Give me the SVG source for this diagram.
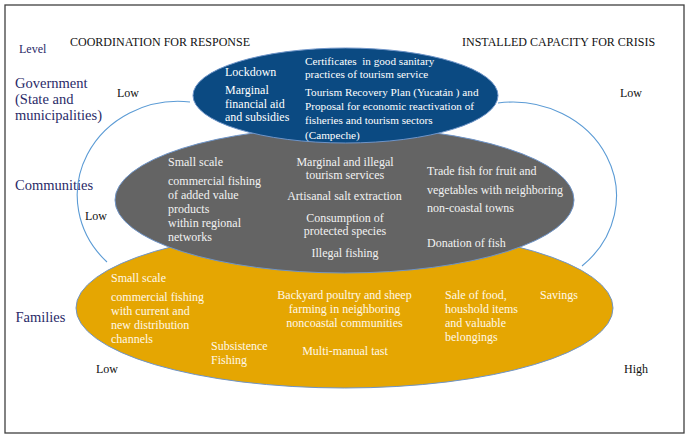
<svg xmlns="http://www.w3.org/2000/svg" width="688" height="436" viewBox="0 0 688 436">
<style>
.lvl{font-family:'Liberation Serif', serif;font-size:14.5px;fill:#2a2a68}
.hd{font-family:'Liberation Serif', serif;font-size:12px;fill:#111}
.lo{font-family:'Liberation Serif', serif;font-size:12px;fill:#111}
.w{font-family:'Liberation Serif', serif;font-size:12px;fill:#ffffff}
.ws{font-family:'Liberation Serif', serif;font-size:11.2px;fill:#ffffff}
.g{font-family:'Liberation Serif', serif;font-size:12px;fill:#f2f2f2}
.o{font-family:'Liberation Serif', serif;font-size:12px;fill:#fff8e8}
.mid{text-anchor:middle}
.ell{stroke:#6e94c8;stroke-width:1}
.arc{fill:none;stroke:#5b9bd5;stroke-width:1.1}
</style>
<rect x="0" y="0" width="688" height="436" fill="#ffffff"/>
<rect x="5" y="5" width="679" height="428" fill="#ffffff" stroke="#404040" stroke-width="1.3"/>

<g id="labels">
<text x="19" y="53" class="lvl" style="font-size:12px">Level</text>
<text x="70" y="46" class="hd">COORDINATION FOR RESPONSE</text>
<text x="462" y="46" class="hd">INSTALLED CAPACITY FOR CRISIS</text>
<text x="15" y="88" class="lvl">Government</text>
<text x="15" y="104" class="lvl">(State and</text>
<text x="15" y="120" class="lvl">municipalities)</text>
<text x="15" y="190" class="lvl">Communities</text>
<text x="15.5" y="322" class="lvl">Families</text>
<text x="117" y="97" class="lo">Low</text>
<text x="620" y="97" class="lo">Low</text>
<text x="85" y="220" class="lo">Low</text>
<text x="96" y="373" class="lo">Low</text>
<text x="624" y="373" class="lo">High</text>
</g>

<g id="families">
<ellipse cx="344.5" cy="308" rx="268.5" ry="80" fill="#e5a602" class="ell"/>
<text class="o" x="111" y="282">Small scale</text>
<text class="o" x="111" y="301">commercial fishing</text>
<text class="o" x="111" y="315">with current and</text>
<text class="o" x="111" y="329">new distribution</text>
<text class="o" x="111" y="343">channels</text>
<text class="o" x="211" y="350">Subsistence</text>
<text class="o" x="211" y="364">Fishing</text>
<text class="o mid" x="344.5" y="299">Backyard poultry and sheep</text>
<text class="o mid" x="344.5" y="313">farming in neighboring</text>
<text class="o mid" x="344.5" y="327">noncoastal communities</text>
<text class="o mid" x="345" y="355">Multi-manual tast</text>
<text class="o" x="445" y="299">Sale of food,</text>
<text class="o" x="445" y="313">houshold items</text>
<text class="o" x="445" y="327">and valuable</text>
<text class="o" x="445" y="341">belongings</text>
<text class="o" x="540" y="299">Savings</text>
</g>

<g id="communities">
<ellipse cx="344.5" cy="200" rx="229.5" ry="73" fill="#646464" class="ell"/>
<text class="g" x="168" y="166">Small scale</text>
<text class="g" x="168" y="185">commercial fishing</text>
<text class="g" x="168" y="198.5">of added value</text>
<text class="g" x="168" y="212.5">products</text>
<text class="g" x="168" y="226.5">within regional</text>
<text class="g" x="168" y="240.5">networks</text>
<text class="g mid" x="345" y="166">Marginal and illegal</text>
<text class="g mid" x="345" y="178.5">tourism services</text>
<text class="g mid" x="344.5" y="200">Artisanal salt extraction</text>
<text class="g mid" x="345" y="221.5">Consumption of</text>
<text class="g mid" x="345" y="235">protected species</text>
<text class="g mid" x="345" y="257">Illegal fishing</text>
<text class="g" x="427" y="175">Trade fish for fruit and</text>
<text class="g" x="427" y="193.5">vegetables with neighboring</text>
<text class="g" x="427" y="212">non-coastal towns</text>
<text class="g" x="427" y="247">Donation of fish</text>
</g>

<g id="government">
<ellipse cx="345.5" cy="95.5" rx="152.5" ry="47.5" fill="#0b4a82" class="ell"/>
<text class="w" x="225" y="76">Lockdown</text>
<text class="w" x="225" y="94">Marginal</text>
<text class="w" x="225" y="107.5">financial aid</text>
<text class="w" x="225" y="121">and subsidies</text>
<text class="ws" x="305" y="64.5">Certificates <tspan dx="2.8">in good sanitary</tspan></text>
<text class="ws" x="305" y="77.5">practices of tourism service</text>
<text class="ws" x="305" y="96">Tourism Recovery Plan (Yucat&#225;n ) and</text>
<text class="ws" x="305" y="110">Proposal for economic reactivation of</text>
<text class="ws" x="305" y="124">fisheries and tourism sectors</text>
<text class="ws" x="305" y="138.5">(Campeche)</text>
</g>

<g id="connectors">
<path class="arc" d="M190,102 A101,94 0 0 0 107,262"/>
<path class="arc" d="M498,103 A104,94 0 0 1 582,266"/>
</g>
</svg>
